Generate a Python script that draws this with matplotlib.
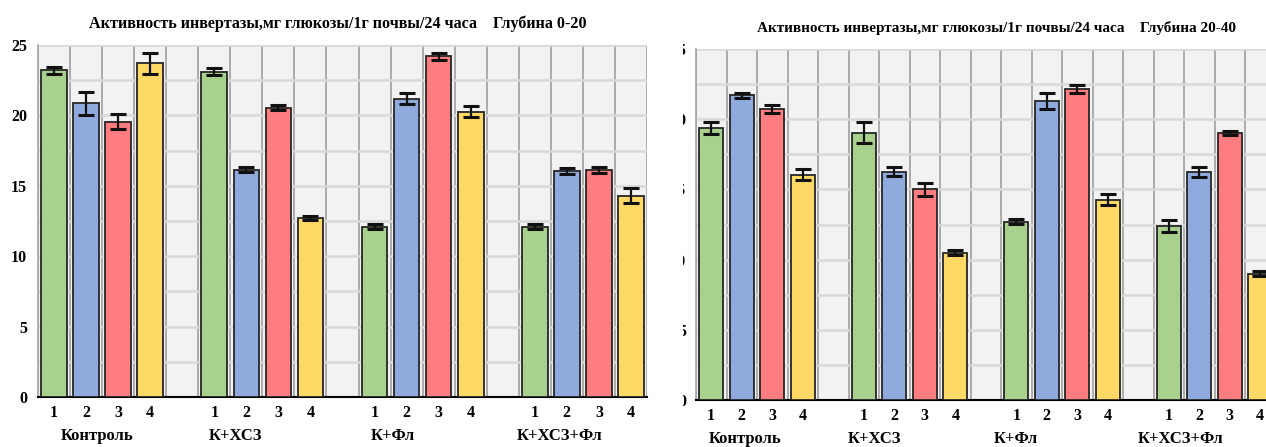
import matplotlib
matplotlib.use("Agg")
import matplotlib.pyplot as plt
from matplotlib.patches import Rectangle
import numpy as np

# ---- data ----
groups = ['Контроль', 'К+ХСЗ', 'К+Фл', 'К+ХСЗ+Фл']
sub_labels = ['1', '2', '3', '4']
colors = ['#A9D18E', '#8FAADC', '#FF7C80', '#FFD966']

left_title = 'Активность инвертазы,мг глюкозы/1г почвы/24 часа    Глубина 0-20'
right_title = 'Активность инвертазы,мг глюкозы/1г почвы/24 часа    Глубина 20-40'

left_vals = [[23.2, 20.85, 19.55, 23.7],
             [23.1, 16.15, 20.55, 12.7],
             [12.1, 21.2, 24.2, 20.25],
             [12.1, 16.05, 16.15, 14.3]]
left_err = [[0.23, 0.8, 0.55, 0.73],
            [0.26, 0.18, 0.19, 0.15],
            [0.16, 0.41, 0.24, 0.39],
            [0.16, 0.21, 0.22, 0.51]]

right_vals = [[19.35, 21.7, 20.75, 16.05],
              [19.05, 16.25, 15.0, 10.5],
              [12.7, 21.3, 22.15, 14.25],
              [12.4, 16.25, 19.05, 9.0]]
right_err = [[0.43, 0.18, 0.28, 0.41],
             [0.72, 0.31, 0.45, 0.18],
             [0.17, 0.55, 0.26, 0.39],
             [0.4, 0.36, 0.14, 0.18]]

yticks = [0, 5, 10, 15, 20, 25]

# layout (positions of group captions, in slot units)
left_group_pos = [1.34, 5.65, 10.58, 15.76]
right_group_pos = [1.11, 5.34, 9.99, 15.4]

plt.rcParams['font.family'] = ['Liberation Serif', 'DejaVu Serif']
plt.rcParams['font.weight'] = 'bold'

W, H = 1266, 447
fig = plt.figure(figsize=(W / 100, H / 100), dpi=100)


def px_axes(x0, x1, ytop, ybot):
    return fig.add_axes([x0 / W, (H - ybot) / H, (x1 - x0) / W, (ybot - ytop) / H])


def draw(ax, vals, errs, title, gpos, ypad, tsize, tx):
    ngroups = len(vals)
    slots = ngroups * 5 - 1
    xs, hs, es, cs, labs = [], [], [], [], []
    for g in range(ngroups):
        for j in range(len(vals[g])):
            xs.append(g * 5 + j)
            hs.append(vals[g][j])
            es.append(errs[g][j])
            cs.append(colors[j])
            labs.append(sub_labels[j])
    ax.set_facecolor('#F2F2F2')
    ax.bar(xs, hs, width=0.8, color=cs, edgecolor='#262626', linewidth=1.3, zorder=3)
    ax.errorbar(xs, hs, yerr=es, fmt='none', ecolor='#111111', elinewidth=1.6,
                capsize=6, capthick=2.2, zorder=4)
    ax.set_xlim(-0.5, slots - 0.5)
    ax.set_ylim(0, 25)
    ax.set_yticks(yticks)
    ax.set_yticks(np.arange(0, 25.1, 2.5), minor=True)
    ax.set_xticks(xs)
    ax.set_xticklabels(labs, fontsize=11.5, fontweight='bold')
    ax.set_xticks(np.arange(-0.5, slots, 1.0), minor=True)
    ax.tick_params(axis='x', which='both', length=0, pad=6)
    ax.tick_params(axis='y', which='both', length=0, pad=ypad, labelsize=11.5)
    for t in ax.get_yticklabels():
        t.set_fontweight('bold')
    ax.grid(which='minor', axis='y', color='#D9D9D9', linewidth=1.8, zorder=0)
    ax.grid(which='major', axis='y', color='#D9D9D9', linewidth=1.8, zorder=0)
    ax.grid(which='minor', axis='x', color='#A6A6A6', linewidth=1.3, zorder=1)
    ax.set_axisbelow(True)
    for s in ['top', 'right']:
        ax.spines[s].set_visible(False)
    ax.spines['left'].set_color('#A6A6A6')
    ax.spines['left'].set_linewidth(1.2)
    ax.spines['bottom'].set_color('#000000')
    ax.spines['bottom'].set_linewidth(1.5)
    ax.set_title(title, fontsize=tsize, fontweight='bold', pad=12, x=tx)
    for g, x in zip(groups, gpos):
        ax.annotate(g, xy=(x, 0), xycoords=('data', 'axes fraction'),
                    xytext=(0, -28), textcoords='offset points',
                    ha='center', va='center', fontsize=12, fontweight='bold')


axL = px_axes(38, 647, 45, 397)
draw(axL, left_vals, left_err, left_title, left_group_pos, 8, 11.6, 0.493)

axR = px_axes(696, 696 + 19 * 30.5, 49, 400)
draw(axR, right_vals, right_err, right_title, right_group_pos, 7, 11.0, 0.519)

# the right picture is cropped on its left side
fig.patches.append(Rectangle((649 / W, 0), (683 - 649) / W, 1, transform=fig.transFigure,
                             facecolor='white', edgecolor='none', zorder=10))

fig.savefig('out.png', dpi=100)
